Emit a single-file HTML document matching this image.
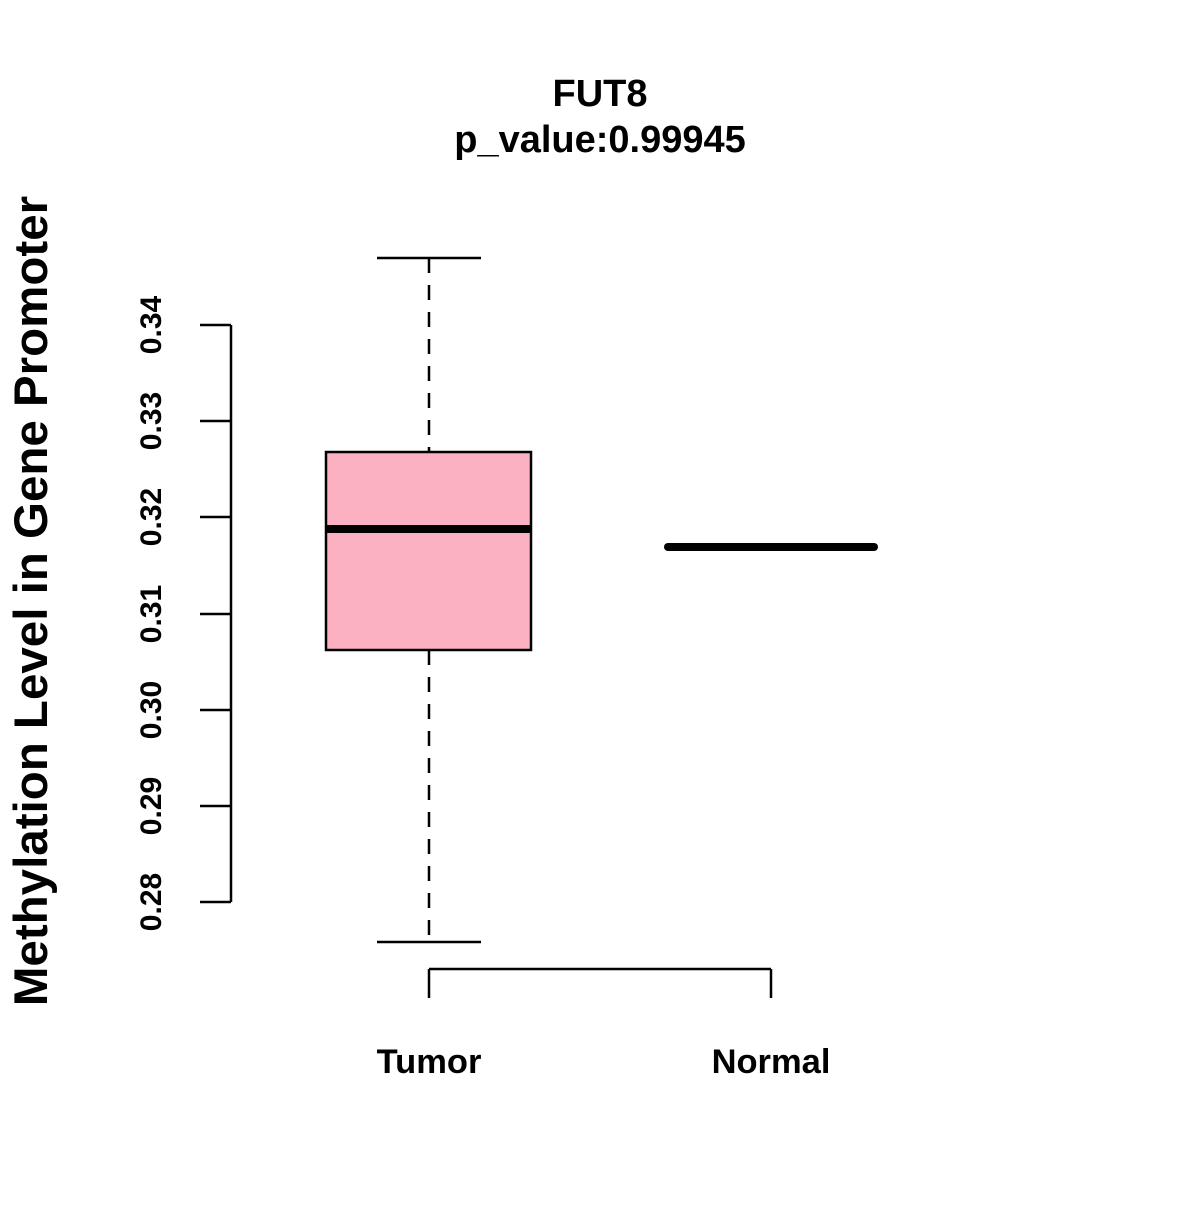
<!DOCTYPE html>
<html><head><style>body{margin:0;background:#fff}</style></head><body>
<svg width="1200" height="1200" xmlns="http://www.w3.org/2000/svg" font-family="Liberation Sans, Arial, sans-serif" font-weight="bold">
<rect width="1200" height="1200" fill="#fff"/>
<text x="600" y="106" font-size="38" text-anchor="middle">FUT8</text>
<text x="600" y="152" font-size="38" text-anchor="middle">p_value:0.99945</text>
<text transform="translate(47,601) rotate(-90)" font-size="47.5" text-anchor="middle">Methylation Level in Gene Promoter</text>
<g stroke="#000" stroke-width="2.5" fill="none">
<line x1="231" y1="325" x2="231" y2="902"/>
<line x1="200" y1="325" x2="231" y2="325"/>
<line x1="200" y1="421" x2="231" y2="421"/>
<line x1="200" y1="517" x2="231" y2="517"/>
<line x1="200" y1="614" x2="231" y2="614"/>
<line x1="200" y1="710" x2="231" y2="710"/>
<line x1="200" y1="806" x2="231" y2="806"/>
<line x1="200" y1="902" x2="231" y2="902"/>
<line x1="429" y1="969" x2="771" y2="969"/>
<line x1="429" y1="969" x2="429" y2="998"/>
<line x1="771" y1="969" x2="771" y2="998"/>
<line x1="429" y1="258" x2="429" y2="452" stroke-dasharray="15,12"/>
<line x1="429" y1="650" x2="429" y2="942" stroke-dasharray="15,12"/>
<line x1="377" y1="258" x2="481" y2="258"/>
<line x1="377" y1="942" x2="481" y2="942"/>
<rect x="326" y="452" width="205" height="198" fill="#fcb1c3"/>
</g>
<line x1="326" y1="529" x2="531" y2="529" stroke="#000" stroke-width="8"/>
<line x1="668" y1="547" x2="874" y2="547" stroke="#000" stroke-width="8" stroke-linecap="round"/>
<g font-size="30" text-anchor="middle">
<text transform="translate(161,325) rotate(-90)">0.34</text>
<text transform="translate(161,421) rotate(-90)">0.33</text>
<text transform="translate(161,517) rotate(-90)">0.32</text>
<text transform="translate(161,614) rotate(-90)">0.31</text>
<text transform="translate(161,710) rotate(-90)">0.30</text>
<text transform="translate(161,806) rotate(-90)">0.29</text>
<text transform="translate(161,902) rotate(-90)">0.28</text>
</g>
<text x="429" y="1073" font-size="34.5" text-anchor="middle">Tumor</text>
<text x="771" y="1073" font-size="34.5" text-anchor="middle">Normal</text>
</svg>
</body></html>
